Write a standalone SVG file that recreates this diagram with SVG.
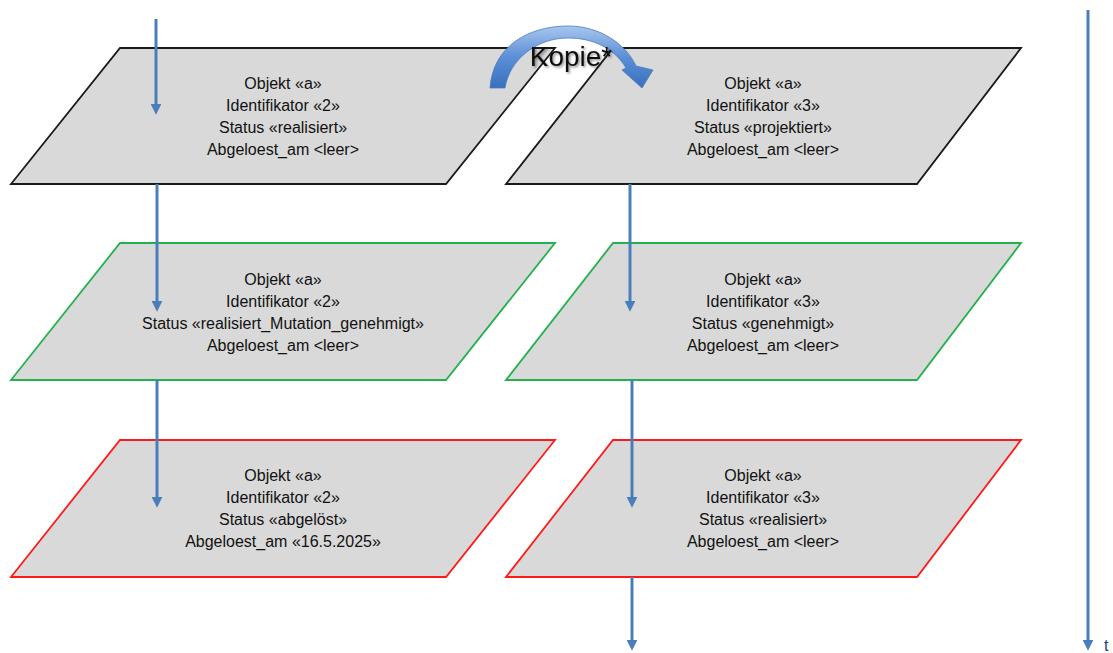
<svg xmlns="http://www.w3.org/2000/svg" width="1113" height="653" viewBox="0 0 1113 653">
<defs>
<style>
.box{fill:#d9d9d9;stroke-width:1.8;stroke-linejoin:miter}
.k{stroke:#1a1a1a}
.g{stroke:#22b14c}
.r{stroke:#ff1a1a}
.t{font-family:"Liberation Sans",Arial,sans-serif;font-size:16px;fill:#111;text-anchor:middle}
.arr{stroke:#4a7ebb;stroke-width:3;fill:none;marker-end:url(#ah)}
</style>
<marker id="ah" viewBox="0 0 10 10" refX="0" refY="5" markerWidth="3.6" markerHeight="3.6" orient="auto" markerUnits="strokeWidth">
<path d="M0,0 L10,5 L0,10 Z" fill="#4a7ebb"/>
</marker>
<linearGradient id="bg" x1="0" y1="0" x2="0" y2="1">
<stop offset="0" stop-color="#a9c6ee"/>
<stop offset="0.5" stop-color="#5b8fd6"/>
<stop offset="1" stop-color="#3a6fbf"/>
</linearGradient>
<filter id="sh" x="-20%" y="-20%" width="140%" height="140%">
<feDropShadow dx="1.5" dy="1.5" stdDeviation="1" flood-color="#000" flood-opacity="0.45"/>
</filter>
</defs>
<rect width="1113" height="653" fill="#fff"/>

<g id="n1">
<polygon class="box k" points="120,48 555,48 446,184 11,184"/>
<text class="t" x="283" y="89">Objekt «a»</text>
<text class="t" x="283" y="111">Identifikator «2»</text>
<text class="t" x="283" y="133">Status «realisiert»</text>
<text class="t" x="283" y="155">Abgeloest_am &lt;leer&gt;</text>
</g>
<g id="n2">
<polygon class="box k" points="613,48 1021,48 917,184 506,184"/>
<text class="t" x="763" y="89">Objekt «a»</text>
<text class="t" x="763" y="111">Identifikator «3»</text>
<text class="t" x="763" y="133">Status «projektiert»</text>
<text class="t" x="763" y="155">Abgeloest_am &lt;leer&gt;</text>
</g>
<g id="n3">
<polygon class="box g" points="120,243 555,243 446,380 11,380"/>
<text class="t" x="283" y="285">Objekt «a»</text>
<text class="t" x="283" y="307">Identifikator «2»</text>
<text class="t" x="283" y="329">Status «realisiert_Mutation_genehmigt»</text>
<text class="t" x="283" y="351">Abgeloest_am &lt;leer&gt;</text>
</g>
<g id="n4">
<polygon class="box g" points="613,243 1021,243 917,380 506,380"/>
<text class="t" x="763" y="285">Objekt «a»</text>
<text class="t" x="763" y="307">Identifikator «3»</text>
<text class="t" x="763" y="329">Status «genehmigt»</text>
<text class="t" x="763" y="351">Abgeloest_am &lt;leer&gt;</text>
</g>
<g id="n5">
<polygon class="box r" points="120,440 555,440 446,577 11,577"/>
<text class="t" x="283" y="481">Objekt «a»</text>
<text class="t" x="283" y="503">Identifikator «2»</text>
<text class="t" x="283" y="525">Status «abgelöst»</text>
<text class="t" x="283" y="547">Abgeloest_am «16.5.2025»</text>
</g>
<g id="n6">
<polygon class="box r" points="613,440 1021,440 917,577 506,577"/>
<text class="t" x="763" y="481">Objekt «a»</text>
<text class="t" x="763" y="503">Identifikator «3»</text>
<text class="t" x="763" y="525">Status «realisiert»</text>
<text class="t" x="763" y="547">Abgeloest_am &lt;leer&gt;</text>
</g>

<g id="connectors">
<line class="arr" x1="156" y1="19" x2="156" y2="104"/>
<line class="arr" x1="157" y1="184" x2="157" y2="301"/>
<line class="arr" x1="157" y1="380" x2="157" y2="497"/>
<line class="arr" x1="630" y1="184" x2="630" y2="301"/>
<line class="arr" x1="632" y1="380" x2="632" y2="497"/>
<line class="arr" x1="632" y1="577" x2="632" y2="640"/>
<line class="arr" x1="1088" y1="10" x2="1088" y2="640"/>
<path id="kopie-arrow" d="M490,88 C493,45 530,26 568,26 C600,26 626,44 636,66 L653,70 L642,88 L622,70 L626,68 C615,49 594,38 568,38 C538,38 510,58 505,88 Z" fill="url(#bg)" stroke="#4a7ebb" stroke-width="0.8"/>
</g>
<text x="571" y="66" font-family="Liberation Sans,Arial,sans-serif" font-size="28" fill="#111" text-anchor="middle" filter="url(#sh)">Kopie*</text>
<text x="1104" y="651" font-family="Liberation Sans,Arial,sans-serif" font-size="16" fill="#1f3f7a">t</text>
</svg>
